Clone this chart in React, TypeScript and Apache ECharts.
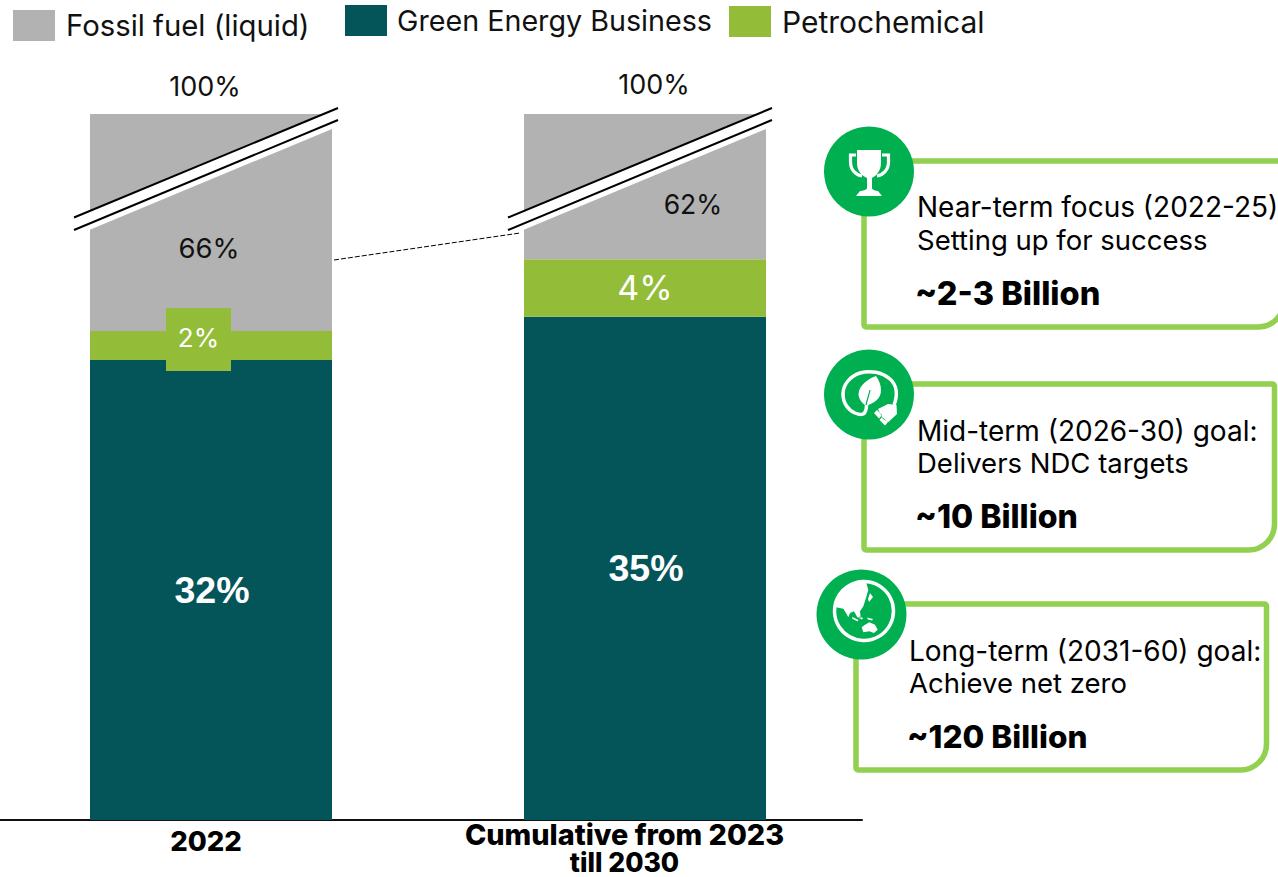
import React, { useEffect, useRef } from "react";
import * as echarts from "echarts";

const categories = ["2022", "Cumulative from 2023\ntill 2030"];
const greenEnergy = [32, 35];
const petrochemical = [2, 4];
const fossilFuel = [66, 62];
const totals = [100, 100];
const panelTitles = [
  ["Near-term focus (2022-25)", "Setting up for success", "~2-3 Billion"],
  ["Mid-term (2026-30) goal:", "Delivers NDC targets", "~10 Billion"],
  ["Long-term (2031-60) goal:", "Achieve net zero", "~120 Billion"],
];

const SANS = "Inter";
const C_GRAY = "#B2B2B2";
const C_TEAL = "#04555A";
const C_OLIVE = "#93BD38";
const C_BORDER = "#92D050";
const C_ICON = "#00B050";

echarts.graphic.registerShape("trophyCup", echarts.graphic.extendPath("M33 24 L57 24 L57 37 C57 45 52 50 48 52 L48 62 C48 64 52 65 54 65 L58 70 L32 70 L36 65 C38 65 43 64 43 62 L43 52 C38 50 33 45 33 37 Z", {}));
echarts.graphic.registerShape("trophyHandles", echarts.graphic.extendPath("M32 29 L26.5 29 L26.5 36 C26.5 44 32 49 38 50 M58 29 L64.5 29 L64.5 36 C64.5 44 59 49 53 50", {}));
echarts.graphic.registerShape("cord", echarts.graphic.extendPath("M70 56 C74 46 73 36 66 30 C58 23 46 21 36 24 C26 27 19 36 19 45 C19 54 24 61 31 64 C36 66 40 66 41 63 C43 60 42 57 43 54", {}));
echarts.graphic.registerShape("leaf", echarts.graphic.extendPath("M52 27 C44 30 35 36 34.5 45 C34.5 50 38 54 42 57 C50 54 57 50 57 41 C57 36 55 31 52 27 Z", {}));
echarts.graphic.registerShape("leafVein", echarts.graphic.extendPath("M46 41 C45 46 43 51 42 56", {}));
echarts.graphic.registerShape("plug", echarts.graphic.extendPath("M54 60 L64 55 L72.5 56 L73 65 L64.5 73 L59 70 Z M53 61 L50 64 L55 69.5 L58 66 Z M58 68 L55.5 71 L61 76.5 L64 73 Z", {}));
echarts.graphic.registerShape("globeLand", echarts.graphic.extendPath("M18.8 38 L27.3 39.7 L30 44 L32.3 48.3 L34 44 L38 42.3 L41.3 48.3 L44.7 49 L44 42.3 L47.3 37.3 L50 29 L52.3 20.7 L50 13 C33 12.5 20 25 18.8 38 Z M54 24 L57 28 L53 33 L52 30 Z M36.5 48 L42.5 51 L41.5 52.5 L36 49.5 Z M43.5 47.5 L47 49 L46 50.5 L43 49 Z M51 48.5 L57 50 L56 51.5 L52 50.5 Z M45.7 58.3 L49 55.7 L53.3 53.3 L59 55.7 L61.7 60.7 L58 64 L53.3 62.3 L47.3 63.3 Z", {}));

function panel(px: number, top: number, right: number, bottom: number, r: number) {
  return {
    type: "rect", z: 5,
    shape: { x: px, y: top, width: right - px, height: bottom - top, r: [2, 2, r, 2] },
    style: { fill: "#fff", stroke: C_BORDER, lineWidth: 5.5 },
  };
}
function txt(text: string, x: number, y: number, size: number, fill = "#000", weight = 400) {
  return {
    type: "text", z: 8, x, y,
    style: { text, fill, font: `${weight} ${size}px ${SANS}`, verticalAlign: "middle" },
  };
}
function shp(type: string, x: number, y: number, style: any, z = 9) {
  return { type, x, y, z, style };
}
function breakMark(dx: number) {
  const w = { stroke: "#000", lineWidth: 2 };
  return [
    { type: "polygon", z: 4, shape: { points: [[85 + dx, 213], [338 + dx, 108], [338 + dx, 126.5], [85 + dx, 231.7]] }, style: { fill: "#fff" } },
    { type: "line", z: 5, shape: { x1: 74 + dx, y1: 217.5, x2: 338 + dx, y2: 108 }, style: w },
    { type: "line", z: 5, shape: { x1: 74 + dx, y1: 230, x2: 338 + dx, y2: 120 }, style: w },
  ];
}

export default function App() {
  const ref = useRef<HTMLDivElement>(null);
  useEffect(() => {
    document.body.style.margin = "0";
    const chart = echarts.init(ref.current!, undefined, { renderer: "svg" });
    const legendBase = { selectedMode: false, icon: "rect", itemWidth: 42, itemHeight: 31, itemGap: 11, padding: 0 };
    const legendText = (gap: number, size: number) => ({ fontFamily: SANS, fontSize: size, color: "#111", padding: [0, 0, 0, gap] });
    const white = "#fff";
    const icons = [
      shp("trophyCup", 824, 126, { fill: white }),
      shp("trophyHandles", 824, 126, { fill: "none", stroke: white, lineWidth: 3.2 }),
      shp("cord", 824, 349, { fill: "none", stroke: white, lineWidth: 3.5 }),
      shp("leaf", 824, 349, { fill: white }),
      shp("leafVein", 824, 349, { fill: "none", stroke: C_ICON, lineWidth: 1.2 }),
      shp("plug", 824, 349, { fill: white }),
      shp("globeLand", 816, 569, { fill: white }),
    ];
    chart.setOption({
      animation: false,
      backgroundColor: "#fff",
      tooltip: { show: false },
      grid: { left: -6, right: 416, top: 114, bottom: 57, outerBoundsMode: "none" },
      legend: [
        { ...legendBase, left: 13, top: 10, data: ["Fossil fuel (liquid)"], textStyle: legendText(6, 29.3) },
        { ...legendBase, left: 345, top: 5, data: ["Green Energy Business"], textStyle: legendText(5, 28.7) },
        { ...legendBase, left: 729, top: 6, data: ["Petrochemical"], textStyle: legendText(6, 30) },
      ],
      xAxis: {
        type: "category",
        data: categories,
        axisTick: { show: false },
        axisLine: { lineStyle: { color: "#111", width: 2 } },
        axisLabel: {
          interval: 0,
          margin: 0,
          formatter: (v: string) => {
            if (!v.includes("\n")) return `{a|${v}}`;
            const [first, second] = v.split("\n");
            return `{b|${first}}\n{c|${second}}`;
          },
          rich: {
            a: { fontFamily: SANS, fontWeight: 800, fontSize: 27.5, color: "#000", lineHeight: 42, padding: [0, 10, 0, 0] },
            b: { fontFamily: SANS, fontWeight: 800, fontSize: 28.8, color: "#000", lineHeight: 28, padding: [0, 41, 0, 0] },
            c: { fontFamily: SANS, fontWeight: 800, fontSize: 26.5, color: "#000", lineHeight: 27, padding: [0, 41, 0, 0] },
          },
        },
      },
      yAxis: {
        type: "value", min: 0, max: 100, show: false, splitLine: { show: false },
        breaks: [{ start: 48, end: 98.9, gap: 0 }],
        breakArea: { show: false },
      },
      series: [
        {
          name: "Green Energy Business", type: "bar", stack: "t", barWidth: 242,
          itemStyle: { color: C_TEAL },
          label: { show: true, position: "inside", offset: [1, 0], formatter: "{c}%", color: "#fff", fontFamily: "Liberation Sans", fontWeight: 700, fontSize: 37.5 },
          data: greenEnergy,
        },
        {
          name: "Petrochemical", type: "bar", stack: "t",
          itemStyle: { color: C_OLIVE },
          label: { show: true, formatter: "{c}%", color: "#fff", fontFamily: SANS },
          data: [
            { value: petrochemical[0], label: { position: [108.5, -23], width: 65, height: 63, lineHeight: 58, align: "center", fontSize: 26, backgroundColor: C_OLIVE } },
            { value: petrochemical[1], label: { position: "inside", fontSize: 34 } },
          ],
        },
        {
          name: "Fossil fuel (liquid)", type: "bar", stack: "t",
          itemStyle: { color: C_GRAY },
          label: { show: true, formatter: "{c}%", color: "#111", fontFamily: SANS, verticalAlign: "middle", align: "center" },
          data: [
            { value: fossilFuel[0], label: { position: [119, 134], fontSize: 27.5 } },
            { value: fossilFuel[1], label: { position: [169, 90], fontSize: 26.5 } },
          ],
        },
        {
          name: "Total", type: "scatter", symbolSize: 1, itemStyle: { color: "transparent", opacity: 1 }, clip: false,
          label: { show: true, position: "top", formatter: "{c}%", color: "#111", fontFamily: SANS, fontSize: 27 },
          data: [
            { value: totals[0], label: { offset: [-6, -9] } },
            { value: totals[1], label: { offset: [9, -11] } },
          ],
        },
      ],
      graphic: [
        ...breakMark(0),
        ...breakMark(434),
        { type: "line", z: 5, shape: { x1: 334, y1: 260, x2: 520, y2: 233 }, style: { stroke: "#000", lineWidth: 1, lineDash: [5, 2] } },
        panel(864, 161, 1284, 327, 26),
        panel(864, 384, 1274.5, 550, 26),
        panel(856, 604, 1266.5, 770, 26),
        { type: "circle", z: 7, shape: { cx: 869, cy: 171.5, r: 45 }, style: { fill: C_ICON } },
        { type: "circle", z: 7, shape: { cx: 869, cy: 394.5, r: 45 }, style: { fill: C_ICON } },
        { type: "circle", z: 7, shape: { cx: 861.5, cy: 614.5, r: 45 }, style: { fill: C_ICON } },
        { type: "circle", z: 9, shape: { cx: 864, cy: 611, r: 29.5 }, style: { fill: "none", stroke: white, lineWidth: 3.5 } },
        ...icons,
        txt(panelTitles[0][0], 917, 207, 28), txt(panelTitles[0][1], 917, 240, 27.5), txt(panelTitles[0][2], 915, 293, 32.5, "#000", 800),
        txt(panelTitles[1][0], 917, 431, 28), txt(panelTitles[1][1], 917, 463, 27.5), txt(panelTitles[1][2], 915, 516, 32, "#000", 800),
        txt(panelTitles[2][0], 909, 651, 28), txt(panelTitles[2][1], 909, 683, 27.5), txt(panelTitles[2][2], 907, 736, 31.5, "#000", 800),
      ],
    });
    return () => chart.dispose();
  }, []);
  return <div ref={ref} style={{ width: 1278, height: 877 }} />;
}
